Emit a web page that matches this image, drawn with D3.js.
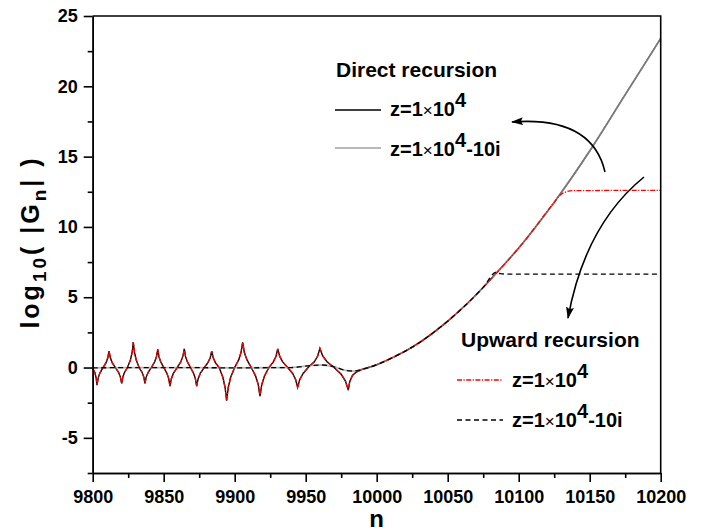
<!DOCTYPE html>
<html>
<head>
<meta charset="utf-8">
<script src="https://cdn.jsdelivr.net/npm/d3@7"></script>
<style>
  html, body { margin: 0; padding: 0; background: #fff; }
  svg { display: block; }
  text { font-family: "Liberation Sans", Arial, sans-serif; font-weight: bold; fill: #000; }
</style>
</head>
<body>
<svg id="chart" width="703" height="532"></svg>
<script>
// ---------- data ----------
const xMajorTicks = [9800, 9850, 9900, 9950, 10000, 10050, 10100, 10150, 10200];
const xMinorTicks = [9825, 9875, 9925, 9975, 10025, 10075, 10125, 10175];
const yMajorTicks = [-5, 0, 5, 10, 15, 20, 25];
const yMinorTicks = [-7.5, -2.5, 2.5, 7.5, 12.5, 17.5, 22.5];

// oscillating region, real z (cusps + estimated points between)
const oscN = [9800, 9801.5, 9802.5, 9803,
  9803.85, 9805.1, 9807.25, 9809.4, 9810.65, 9811.5,
  9812.4, 9813.7, 9815.95, 9818.2, 9819.5, 9820.4,
  9821.2, 9822.45, 9824.5, 9826.55, 9827.8, 9828.6,
  9829.4, 9830.65, 9832.7, 9834.75, 9836.0, 9836.8,
  9837.7, 9839.05, 9841.3, 9843.55, 9844.9, 9845.8,
  9846.65, 9847.95, 9850.1, 9852.25, 9853.55, 9854.4,
  9855.4, 9856.9, 9859.45, 9862.0, 9863.5, 9864.5,
  9865.35, 9866.7, 9868.85, 9871.0, 9872.3, 9873.2,
  9874.25, 9875.85, 9878.5, 9881.15, 9882.75, 9883.8,
  9884.85, 9886.4, 9889.05, 9891.7, 9893.25, 9894.3,
  9895.45, 9897.1, 9899.95, 9902.8, 9904.45, 9905.6,
  9906.8, 9908.65, 9911.7, 9914.75, 9916.6, 9917.8,
  9919.05, 9920.95, 9924.05, 9927.2, 9929.05, 9930.3,
  9931.7, 9933.8, 9937.3, 9940.8, 9942.9, 9944.3,
  9945.85, 9948.2, 9952.15, 9956.1, 9958.45, 9960,
  9962, 9965, 9970, 9975, 9978, 9980,
  9981, 9983, 9986, 9990];
const oscV = [-0.06, -0.35, -0.75, -1.25,
  -0.75, -0.375, 0, 0.35, 0.70, 1.17,
  0.70, 0.35, 0, -0.34, -0.68, -1.13,
  -0.68, -0.34, 0, 0.54, 1.09, 1.81,
  1.09, 0.54, 0, -0.34, -0.68, -1.13,
  -0.68, -0.34, 0, 0.39, 0.77, 1.29,
  0.77, 0.39, 0, -0.40, -0.79, -1.32,
  -0.79, -0.40, 0, 0.40, 0.79, 1.32,
  0.79, 0.40, 0, -0.40, -0.79, -1.32,
  -0.79, -0.40, 0, 0.35, 0.70, 1.17,
  0.70, 0.35, 0, -0.71, -1.42, -2.36,
  -1.42, -0.71, 0, 0.54, 1.07, 1.79,
  1.07, 0.54, 0, -0.61, -1.22, -2.03,
  -1.22, -0.61, 0, 0.40, 0.79, 1.32,
  0.79, 0.40, 0, -0.42, -0.85, -1.41,
  -0.85, -0.42, 0.05, 0.41, 0.82, 1.36,
  0.82, 0.41, 0, -0.48, -0.96, -1.6,
  -1.0, -0.55, -0.3, -0.12];

// smooth region, complex z
const smoothN = [9800, 9850, 9900, 9940, 9955, 9962, 9970, 9978, 9984, 9990];
const smoothV = [-0.02, 0.0, -0.02, 0.0, 0.15, 0.18, 0.05, -0.2, -0.25, -0.12];

// common growing branch
const riseN = [9990, 10000, 10010, 10025, 10050, 10075, 10085, 10100, 10125, 10150, 10175, 10200];
const riseV = [-0.12, 0.2, 0.65, 1.45, 3.3, 5.7, 6.8, 8.5, 11.75, 15.4, 19.4, 23.4];

// upward recursion saturation tails
const upRealTailN = [10129, 10133, 10138, 10200];
const upRealTailV = [12.25, 12.48, 12.58, 12.6];
const upCplxTailN = [10084.5, 10087, 10090, 10200];
const upCplxTailV = [6.8, 6.68, 6.65, 6.65];

// ---------- layout ----------
const L = 92.7, R = 660.7, T = 16, B = 473;
const svg = d3.select("#chart");
const x = d3.scaleLinear().domain([9800, 10200]).range([L, R]);
const y = d3.scaleLinear().domain([-7.5, 25]).range([B, T]);

const zip = (ns, vs) => ns.map((n, i) => [n, vs[i]]);
const linLine = d3.line().x(d => x(d[0])).y(d => y(d[1])).curve(d3.curveLinear);
const monoLine = d3.line().x(d => x(d[0])).y(d => y(d[1])).curve(d3.curveMonotoneX);

const osc = zip(oscN, oscV);
const rise = zip(riseN, riseV);
const smooth = zip(smoothN, smoothV);

const directReal = linLine(osc) + monoLine(rise);
const directCplx = monoLine(smooth.concat(rise.slice(1)));
const upReal = linLine(osc) + monoLine(rise.filter(d => d[0] <= 10125).concat(zip(upRealTailN, upRealTailV)));
const upCplx = monoLine(smooth.concat(rise.slice(1).filter(d => d[0] <= 10075)).concat(zip(upCplxTailN, upCplxTailV)));

const plot = svg.append("g");
plot.append("path").attr("d", directReal).attr("fill", "none").attr("stroke", "#000").attr("stroke-width", 1.4);
plot.append("path").attr("d", directCplx).attr("fill", "none").attr("stroke", "#a0a0a0").attr("stroke-opacity", 0.75).attr("stroke-width", 1.8);
plot.append("path").attr("d", upReal).attr("fill", "none").attr("stroke", "#ff0000").attr("stroke-width", 1.3)
  .attr("stroke-dasharray", "5,1.5,1.2,1.5");
plot.append("path").attr("d", upCplx).attr("fill", "none").attr("stroke", "#000").attr("stroke-width", 1.3)
  .attr("stroke-dasharray", "5,3.5");

// ---------- axes ----------
const axW = 1.6;
const fmt = d => String(d);
const xAxisMajor = svg.append("g").attr("transform", `translate(0,${B})`)
  .call(d3.axisBottom(x).tickValues(xMajorTicks).tickSize(9).tickSizeOuter(0).tickPadding(8).tickFormat(fmt));
const xAxisMinor = svg.append("g").attr("transform", `translate(0,${B})`)
  .call(d3.axisBottom(x).tickValues(xMinorTicks).tickSize(5).tickSizeOuter(0).tickFormat(""));
const yAxisMajor = svg.append("g").attr("transform", `translate(${L},0)`)
  .call(d3.axisLeft(y).tickValues(yMajorTicks).tickSize(9).tickSizeOuter(0).tickPadding(6).tickFormat(fmt));
const yAxisMinor = svg.append("g").attr("transform", `translate(${L},0)`)
  .call(d3.axisLeft(y).tickValues(yMinorTicks).tickSize(5).tickSizeOuter(0).tickFormat(""));

[xAxisMajor, xAxisMinor, yAxisMajor, yAxisMinor].forEach(g => {
  g.selectAll("path.domain").attr("stroke", "#000").attr("stroke-width", axW);
  g.selectAll(".tick line").attr("stroke", "#000").attr("stroke-width", axW);
  g.selectAll(".tick text").style("font-size", "18px").style("font-weight", "bold")
    .style("font-family", '"Liberation Sans", Arial, sans-serif').attr("fill", "#000");
});
svg.append("path").attr("d", `M${L},${T}H${R}V${B}`).attr("fill", "none").attr("stroke", "#000").attr("stroke-width", axW);

// axis titles
svg.append("text").attr("x", x(10000)).attr("y", 527).attr("text-anchor", "middle")
  .style("font-size", "24px").text("n");

const yt = svg.append("text").attr("transform", "translate(39,242) rotate(-90)")
  .attr("text-anchor", "middle").style("font-size", "25px").style("letter-spacing", "3px");
yt.append("tspan").text("log");
yt.append("tspan").attr("dy", 7).style("font-size", "19px").text("10");
yt.append("tspan").attr("dy", -7).text("( |G");
yt.append("tspan").attr("dy", 7).style("font-size", "19px").text("n");
yt.append("tspan").attr("dy", -7).text("| )");

// ---------- legends ----------
function legendLine(x0, ly, color, dash) {
  svg.append("line").attr("x1", x0).attr("x2", x0 + 46).attr("y1", ly).attr("y2", ly)
    .attr("stroke", color).attr("stroke-width", 1.3).attr("stroke-dasharray", dash || null);
}
function legendText(tx, ty, sup, tail) {
  const t = svg.append("text").attr("x", tx).attr("y", ty).style("font-size", "20px");
  t.append("tspan").text("z=1");
  t.append("tspan").style("font-weight", "normal").style("font-size", "17px").text("\u00d7");
  t.append("tspan").text("10");
  t.append("tspan").attr("dy", -9).text(sup);
  if (tail) t.append("tspan").attr("dy", 9).text(tail);
}

svg.append("text").attr("x", 336).attr("y", 77).style("font-size", "21px").text("Direct recursion");
legendLine(335, 110, "#000", null);
legendText(390, 116, "4", null);
legendLine(335, 148, "#a0a0a0", null);
legendText(390, 156, "4", "-10i");

svg.append("text").attr("x", 461).attr("y", 347).style("font-size", "21px").text("Upward recursion");
legendLine(457, 380, "#ff0000", "5,1.5,1.2,1.5");
legendText(512, 387, "4", null);
legendLine(457, 420, "#000", "5,3.5");
legendText(512, 427, "4", "-10i");

// ---------- arrows ----------
const defs = svg.append("defs");
defs.append("marker").attr("id", "ah").attr("viewBox", "0 0 12 8").attr("refX", 11).attr("refY", 4)
  .attr("markerWidth", 12).attr("markerHeight", 8).attr("markerUnits", "userSpaceOnUse").attr("orient", "auto")
  .append("path").attr("d", "M0,0L12,4L0,8L2,4Z").attr("fill", "#000");

const a1 = d3.path(); a1.moveTo(605, 172); a1.quadraticCurveTo(592, 116, 512, 122);
const a2 = d3.path(); a2.moveTo(644, 177); a2.quadraticCurveTo(585, 225, 568, 318);
[a1, a2].forEach(p => svg.append("path").attr("d", p.toString()).attr("fill", "none")
  .attr("stroke", "#000").attr("stroke-width", 1.6).attr("marker-end", "url(#ah)"));
</script>
</body>
</html>
